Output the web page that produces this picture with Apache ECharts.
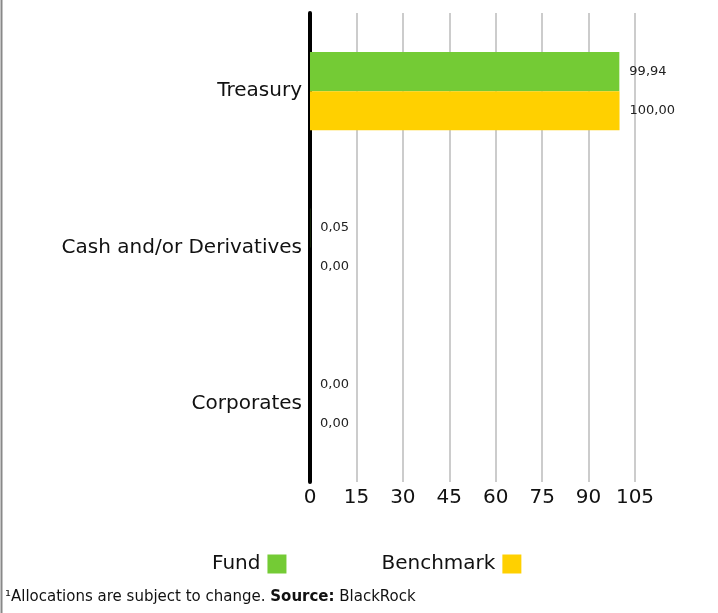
<!DOCTYPE html>
<html>
<head>
<meta charset="utf-8">
<script src="https://cdn.jsdelivr.net/npm/echarts@6/dist/echarts.min.js"></script>
<style>
html,body{margin:0;padding:0;background:#fff;}
#main{width:718px;height:613px;}
</style>
</head>
<body>
<div id="main"></div>
<script>
var categories = ['Treasury', 'Cash and/or Derivatives', 'Corporates'];
var fundValues = [99.94, 0.05, 0.00];
var benchmarkValues = [100.00, 0.00, 0.00];
var xTicks = [0, 15, 30, 45, 60, 75, 90, 105];
var seriesNames = ['Fund', 'Benchmark'];

var FONT = '"DejaVu Sans", sans-serif';
var chart = echarts.init(document.getElementById('main'), null, {renderer: 'canvas'});

function fmt(v) { return v.toFixed(2).replace('.', ','); }

chart.setOption({
  animation: false,
  backgroundColor: '#fff',
  grid: {left: 310, right: 83, top: 13, bottom: 131, containLabel: false},
  xAxis: {
    type: 'value',
    min: xTicks[0],
    max: xTicks[xTicks.length - 1],
    interval: 15,
    axisLine: {show: false},
    axisTick: {show: false},
    splitLine: {show: true, lineStyle: {color: '#cccccc', width: 2}},
    axisLabel: {color: '#111', fontSize: 20, fontFamily: FONT, margin: 6}
  },
  yAxis: {
    type: 'category',
    data: categories,
    inverse: true,
    axisLine: {show: true, lineStyle: {color: '#000', width: 4}},
    axisTick: {show: false},
    splitLine: {show: false},
    axisLabel: {color: '#111', fontSize: 20, fontFamily: FONT, margin: 8, padding: [4, 0, 0, 0]}
  },
  legend: {
    data: seriesNames,
    left: 207,
    top: 549,
    align: 'right',
    icon: 'rect',
    itemWidth: 19,
    itemHeight: 19,
    itemGap: 95,
    textStyle: {color: '#111', fontSize: 20, fontFamily: FONT, padding: [0, 2, 0, 0]}
  },
  graphic: [
    {type: 'line', shape: {x1: 1.5, y1: 0, x2: 1.5, y2: 613}, style: {stroke: '#888', lineWidth: 2}},
    {
      type: 'text', left: 5, top: 590,
      style: {
        text: '{a|¹Allocations are subject to change. }{b|Source:}{a| BlackRock}',
        rich: {
          a: {fontSize: 15, fontFamily: FONT, fill: '#111'},
          b: {fontSize: 15, fontFamily: FONT, fill: '#111', fontWeight: 'bold'}
        }
      }
    }
  ],
  series: [
    {
      name: seriesNames[0], type: 'bar', data: fundValues,
      barGap: '0%', barCategoryGap: '50%',
      itemStyle: {color: '#74cb35'},
      label: {show: true, position: 'right', distance: 10, color: '#222', fontSize: 13, fontFamily: FONT,
        formatter: function (p) { return fmt(p.value); }}
    },
    {
      name: seriesNames[1], type: 'bar', data: benchmarkValues,
      barGap: '0%', barCategoryGap: '50%',
      itemStyle: {color: '#ffd000'},
      label: {show: true, position: 'right', distance: 10, color: '#222', fontSize: 13, fontFamily: FONT,
        formatter: function (p) { return fmt(p.value); }}
    }
  ]
});
</script>
</body>
</html>
